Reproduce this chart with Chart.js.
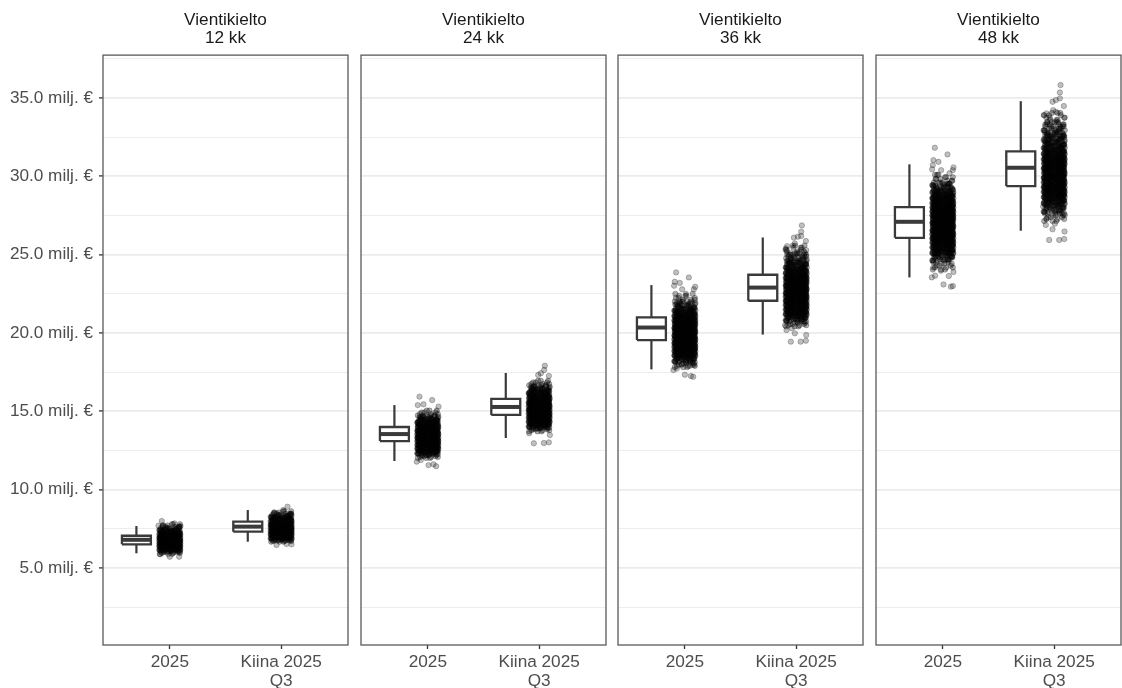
<!DOCTYPE html>
<html>
<head>
<meta charset="utf-8">
<title>Vientikielto</title>
<script src="https://cdn.jsdelivr.net/npm/chart.js@4/dist/chart.umd.min.js"></script>
<style>
    html, body { margin: 0; padding: 0; background: #fff; }
    canvas { position: absolute; top: 0; }
</style>
</head>
<body>
<canvas id="panel0"></canvas>
<canvas id="panel1"></canvas>
<canvas id="panel2"></canvas>
<canvas id="panel3"></canvas>
<script>
// Categories and panels
const categories = [['2025'], ['Kiina 2025', 'Q3']];
const panelTitles = [['Vientikielto', '12 kk'], ['Vientikielto', '24 kk'], ['Vientikielto', '36 kk'], ['Vientikielto', '48 kk']];
const yTicks = [2.5, 5, 7.5, 10, 12.5, 15, 17.5, 20, 22.5, 25, 27.5, 30, 32.5, 35, 37.5];
const yLabels = ['5.0 milj. €', '10.0 milj. €', '15.0 milj. €', '20.0 milj. €', '25.0 milj. €', '30.0 milj. €', '35.0 milj. €'];

// Box stats, one row per panel: [2025, Kiina 2025 Q3]
const whiskerLow = [[5.94, 6.68], [11.83, 13.3], [17.68, 19.9], [23.55, 26.53]];
const boxLow = [[6.51, 7.32], [13.1, 14.77], [19.55, 22.06], [26.08, 29.38]];
const medians = [[6.8, 7.64], [13.55, 15.28], [20.35, 22.9], [27.1, 30.55]];
const boxHigh = [[7.06, 7.96], [14.0, 15.8], [21.0, 23.72], [28.04, 31.6]];
const whiskerHigh = [[7.68, 8.7], [15.4, 17.45], [23.06, 26.1], [30.77, 34.8]];

// Sideways scatter of the dense part of every cloud
const jitter = [-0.09, 0.03, -0.03, 0.08, -0.06, 0.01, 0.06, -0.08, 0.04, -0.02, 0.09, -0.05, 0.02, -0.07, 0.07, -0.01, 0.05, -0.09, 0.00, 0.085, -0.04, 0.035, -0.075, 0.065, -0.015, 0.09, -0.055, 0.015, -0.085, 0.045, -0.025, 0.075, -0.065, 0.025, -0.035, 0.095, -0.045, 0.055, -0.08, 0.005, 0.07, -0.095, 0.04, -0.01, 0.085, -0.06, 0.03, -0.07, 0.06, -0.02, 0.09, -0.05, 0.01, -0.085, 0.05, -0.03, 0.08, -0.065, 0.02, -0.04];

// Dense part of the clouds
const dense12a = [5.9, 5.96, 6.02, 6.07, 6.12, 6.16, 6.2, 6.24, 6.28, 6.31, 6.35, 6.38, 6.41, 6.44, 6.48, 6.51, 6.54, 6.57, 6.6, 6.63, 6.66, 6.69, 6.72, 6.75, 6.78, 6.81, 6.84, 6.87, 6.9, 6.93, 6.97, 7.0, 7.03, 7.07, 7.1, 7.14, 7.18, 7.22, 7.26, 7.31, 7.36, 7.42, 7.48, 7.55, 7.63, 7.72, 7.8];
const dense12b = [6.68, 6.72, 6.76, 6.81, 6.86, 6.9, 6.94, 6.98, 7.02, 7.06, 7.1, 7.14, 7.17, 7.21, 7.24, 7.28, 7.31, 7.35, 7.38, 7.41, 7.45, 7.48, 7.51, 7.55, 7.58, 7.61, 7.65, 7.68, 7.71, 7.75, 7.78, 7.82, 7.85, 7.89, 7.93, 7.97, 8.01, 8.05, 8.1, 8.15, 8.2, 8.26, 8.32, 8.39, 8.46, 8.54, 8.62];
const dense24a = [12.02, 12.08, 12.14, 12.21, 12.27, 12.32, 12.37, 12.42, 12.47, 12.52, 12.57, 12.61, 12.66, 12.7, 12.74, 12.78, 12.82, 12.86, 12.9, 12.94, 12.98, 13.02, 13.06, 13.1, 13.13, 13.17, 13.21, 13.25, 13.28, 13.32, 13.36, 13.39, 13.43, 13.47, 13.5, 13.54, 13.57, 13.61, 13.65, 13.68, 13.72, 13.76, 13.8, 13.84, 13.88, 13.92, 13.96, 14.0, 14.04, 14.09, 14.13, 14.18, 14.23, 14.28, 14.33, 14.39, 14.45, 14.51, 14.58, 14.66, 14.74, 14.83, 14.93, 15.05];
const dense24b = [13.72, 13.79, 13.85, 13.92, 13.97, 14.03, 14.08, 14.14, 14.19, 14.24, 14.29, 14.33, 14.38, 14.42, 14.47, 14.51, 14.56, 14.6, 14.64, 14.68, 14.72, 14.76, 14.8, 14.84, 14.88, 14.92, 14.96, 15.0, 15.04, 15.08, 15.12, 15.16, 15.2, 15.24, 15.28, 15.32, 15.36, 15.4, 15.44, 15.48, 15.52, 15.56, 15.6, 15.64, 15.68, 15.73, 15.77, 15.82, 15.87, 15.92, 15.97, 16.02, 16.08, 16.14, 16.2, 16.27, 16.34, 16.41, 16.49, 16.57, 16.66, 16.75, 16.85, 16.95];
const dense36a = [17.82, 17.9, 17.98, 18.06, 18.13, 18.2, 18.27, 18.33, 18.39, 18.45, 18.51, 18.56, 18.61, 18.66, 18.71, 18.76, 18.8, 18.85, 18.9, 18.94, 18.98, 19.03, 19.07, 19.11, 19.15, 19.19, 19.23, 19.27, 19.31, 19.35, 19.39, 19.43, 19.47, 19.51, 19.55, 19.59, 19.63, 19.67, 19.71, 19.75, 19.79, 19.83, 19.87, 19.91, 19.95, 19.99, 20.03, 20.07, 20.11, 20.15, 20.19, 20.23, 20.27, 20.31, 20.35, 20.39, 20.43, 20.47, 20.51, 20.55, 20.59, 20.63, 20.67, 20.71, 20.76, 20.8, 20.84, 20.89, 20.93, 20.98, 21.03, 21.08, 21.13, 21.18, 21.24, 21.3, 21.36, 21.43, 21.5, 21.57, 21.65, 21.73, 21.82, 21.91, 22.01, 22.12, 22.24, 22.37, 22.5];
const dense36b = [20.42, 20.5, 20.58, 20.66, 20.74, 20.81, 20.88, 20.95, 21.01, 21.07, 21.13, 21.19, 21.25, 21.3, 21.35, 21.4, 21.45, 21.5, 21.55, 21.6, 21.64, 21.69, 21.73, 21.78, 21.82, 21.87, 21.91, 21.96, 22.0, 22.04, 22.08, 22.13, 22.17, 22.21, 22.25, 22.3, 22.34, 22.38, 22.42, 22.46, 22.5, 22.54, 22.58, 22.62, 22.66, 22.7, 22.74, 22.78, 22.82, 22.86, 22.9, 22.94, 22.98, 23.02, 23.06, 23.1, 23.14, 23.18, 23.22, 23.26, 23.3, 23.35, 23.39, 23.43, 23.48, 23.52, 23.57, 23.61, 23.66, 23.71, 23.76, 23.81, 23.87, 23.93, 23.99, 24.05, 24.12, 24.19, 24.26, 24.34, 24.42, 24.5, 24.59, 24.68, 24.78, 24.88, 25.0, 25.1, 25.2, 25.32, 25.45, 25.58];
const dense48a = [24.05, 24.18, 24.3, 24.42, 24.51, 24.63, 24.7, 24.82, 24.89, 24.98, 25.06, 25.11, 25.19, 25.24, 25.31, 25.36, 25.42, 25.47, 25.53, 25.57, 25.62, 25.68, 25.72, 25.77, 25.81, 25.86, 25.91, 25.95, 26.0, 26.04, 26.09, 26.12, 26.17, 26.21, 26.25, 26.3, 26.34, 26.38, 26.42, 26.46, 26.5, 26.55, 26.58, 26.63, 26.67, 26.71, 26.75, 26.79, 26.83, 26.87, 26.91, 26.95, 26.99, 27.03, 27.07, 27.11, 27.15, 27.19, 27.23, 27.27, 27.31, 27.35, 27.39, 27.43, 27.47, 27.51, 27.55, 27.59, 27.63, 27.67, 27.71, 27.75, 27.8, 27.84, 27.88, 27.93, 27.97, 28.02, 28.06, 28.11, 28.15, 28.2, 28.25, 28.29, 28.34, 28.39, 28.44, 28.49, 28.54, 28.6, 28.65, 28.71, 28.76, 28.83, 28.89, 28.96, 29.03, 29.1, 29.18, 29.26, 29.35, 29.44, 29.53, 29.61, 29.72, 29.83, 29.95, 30.1];
const dense48b = [27.15, 27.28, 27.4, 27.52, 27.63, 27.74, 27.84, 27.94, 28.03, 28.12, 28.2, 28.28, 28.36, 28.43, 28.5, 28.56, 28.62, 28.68, 28.74, 28.8, 28.85, 28.9, 28.95, 29.0, 29.05, 29.1, 29.15, 29.2, 29.25, 29.3, 29.35, 29.4, 29.45, 29.5, 29.55, 29.6, 29.65, 29.7, 29.75, 29.8, 29.85, 29.9, 29.95, 30.0, 30.05, 30.1, 30.15, 30.2, 30.25, 30.3, 30.35, 30.4, 30.45, 30.5, 30.55, 30.6, 30.65, 30.7, 30.75, 30.8, 30.85, 30.9, 30.95, 31.0, 31.05, 31.1, 31.15, 31.2, 31.26, 31.31, 31.37, 31.43, 31.49, 31.55, 31.61, 31.68, 31.75, 31.82, 31.89, 31.97, 32.05, 32.13, 32.22, 32.31, 32.4, 32.5, 32.6, 32.71, 32.82, 32.94, 33.06, 33.19, 33.32, 33.46, 33.6, 33.75, 33.9, 34.05];

// Single points around the clouds, read one by one
const outlier12aX = [-0.072, 0.042, 0.096, -0.102, -0.087, 0.0, 0.084];
const outlier12aY = [8.0, 7.85, 7.68, 7.7, 5.87, 5.72, 5.72];
const outlier12bX = [0.057, 0.018, 0.093, -0.042, 0.048, 0.093];
const outlier12bY = [8.91, 8.7, 8.38, 6.47, 6.53, 6.51];
const outlier24aX = [-0.075, 0.039, -0.039, -0.09, 0.096, -0.099, -0.063, 0.006, 0.075, 0.051];
const outlier24aY = [15.94, 15.72, 15.45, 15.4, 15.3, 11.79, 11.9, 11.57, 11.5, 11.62];
const outlier24bX = [0.051, 0.045, 0.015, 0.087, -0.009, -0.048, 0.042, 0.087, 0.096, -0.09];
const outlier24bY = [17.91, 17.64, 17.43, 17.26, 17.32, 12.96, 12.98, 13.02, 13.49, 13.6];
const outlier36aX = [-0.078, 0.036, -0.045, -0.09, -0.096, -0.024, 0.093, 0.081, -0.102, -0.072, 0.0, 0.075, 0.054, -0.027, 0.045, 0.084];
const outlier36aY = [23.87, 23.55, 23.2, 23.27, 23.02, 22.79, 22.95, 22.79, 17.64, 17.73, 17.34, 17.21, 17.26, 18.0, 17.9, 17.96];
const outlier36bX = [0.051, 0.045, 0.045, 0.015, -0.021, 0.087, -0.012, -0.081, -0.093, 0.09, -0.048, 0.04, 0.087, 0.09, -0.012, -0.087, -0.1, -0.04];
const outlier36bY = [26.87, 26.47, 26.19, 26.15, 26.09, 25.87, 25.72, 25.55, 25.4, 25.29, 19.45, 19.45, 19.51, 19.87, 19.98, 20.19, 20.5, 20.3];
const outlier48aX = [-0.072, 0.042, -0.084, -0.039, -0.09, -0.096, 0.096, -0.015, 0.09, 0.06, -0.099, -0.069, 0.006, 0.072, 0.09, -0.018, 0.054, 0.096, -0.084];
const outlier48aY = [31.83, 31.4, 31.04, 30.93, 30.72, 30.45, 30.57, 30.4, 30.4, 30.2, 23.55, 23.66, 23.1, 22.96, 23.0, 23.98, 23.64, 23.9, 24.19];
const outlier48bX = [0.057, 0.051, 0.051, 0.015, -0.015, 0.087, -0.009, -0.069, 0.09, -0.093, 0.015, -0.045, 0.045, 0.09, 0.093, -0.015, -0.075, -0.099, -0.069, 0.006, 0.096];
const outlier48bY = [35.83, 35.36, 34.98, 34.87, 34.76, 34.49, 34.23, 34.02, 33.74, 33.91, 34.12, 25.94, 25.94, 26.0, 26.48, 26.62, 26.9, 28.07, 27.3, 26.98, 27.53];

const denseClouds = [[dense12a, dense12b], [dense24a, dense24b], [dense36a, dense36b], [dense48a, dense48b]];
const outliersX = [[outlier12aX, outlier12bX], [outlier24aX, outlier24bX], [outlier36aX, outlier36bX], [outlier48aX, outlier48bX]];
const outliersY = [[outlier12aY, outlier12bY], [outlier24aY, outlier24bY], [outlier36aY, outlier36bY], [outlier48aY, outlier48bY]];

// Layout and style
const panelLeft = [103, 361, 618, 876];
const panelWidth = 245;
const boxOffset = -0.3;
const boxHalf = 0.13;
const inkColor = '#3a3a3a';
const labelColor = '#4d4d4d';
const gridColor = '#ebebeb';
const fontFamily = '"Liberation Sans", Arial, sans-serif';
// every dense y is drawn at these places of the jitter list, fewer near the cloud ends
const jitterStarts = [0, 24, 12, 48, 36, 6, 30, 18];

// ggplot style frame round the panel
const panelFrame = {
    id: 'panelFrame',
    afterDraw: function (chart) {
        const a = chart.chartArea;
        const ctx = chart.ctx;
        ctx.save();
        ctx.strokeStyle = '#5a5a5a';
        ctx.lineWidth = 1.3;
        ctx.strokeRect(a.left, a.top, a.right - a.left, a.bottom - a.top);
        ctx.restore();
    }
};

function lineSet(points, width, extra) {
    return Object.assign({
        data: points,
        showLine: true,
        pointRadius: 0,
        borderColor: inkColor,
        borderWidth: width,
        borderCapStyle: 'butt',
        borderJoinStyle: 'miter',
        tension: 0
    }, extra || {});
}

function densePoints(values, cx) {
    const points = [];
    values.forEach(function (v, k) {
        const edge = Math.min(k, values.length - 1 - k) / values.length;
        const copies = edge < 0.04 ? 3 : edge < 0.09 ? 6 : jitterStarts.length;
        jitterStarts.slice(0, copies).forEach(function (s) {
            points.push({ x: cx + jitter[(k + s) % jitter.length], y: v });
        });
    });
    return points;
}

function buildDatasets(p) {
    const medianSets = [], boxSets = [], whiskerSets = [], denseSets = [], outlierSets = [];
    categories.forEach(function (c, i) {
        const cx = i + 1;
        const bx = cx + boxOffset;
        medianSets.push(lineSet([{ x: bx - boxHalf, y: medians[p][i] }, { x: bx + boxHalf, y: medians[p][i] }], 4));
        boxSets.push(lineSet([
            { x: bx - boxHalf, y: boxLow[p][i] }, { x: bx + boxHalf, y: boxLow[p][i] },
            { x: bx + boxHalf, y: boxHigh[p][i] }, { x: bx - boxHalf, y: boxHigh[p][i] },
            { x: bx - boxHalf, y: boxLow[p][i] }
        ], 2.3, { fill: 'shape', backgroundColor: '#fff' }));
        whiskerSets.push(lineSet([{ x: bx, y: whiskerLow[p][i] }, { x: bx, y: whiskerHigh[p][i] }], 2.2));
        denseSets.push({
            data: densePoints(denseClouds[p][i], cx),
            pointRadius: 2.7,
            pointBorderWidth: 0.7,
            pointBackgroundColor: 'rgba(0,0,0,0.32)',
            pointBorderColor: 'rgba(0,0,0,0.35)'
        });
        outlierSets.push({
            data: outliersY[p][i].map(function (v, k) { return { x: cx + outliersX[p][i][k], y: v }; }),
            pointRadius: 2.7,
            pointBorderWidth: 0.8,
            pointBackgroundColor: 'rgba(0,0,0,0.25)',
            pointBorderColor: 'rgba(0,0,0,0.3)'
        });
    });
    // first dataset ends up on top
    return medianSets.concat(boxSets, whiskerSets, denseSets, outlierSets);
}

panelTitles.forEach(function (title, p) {
    const canvas = document.getElementById('panel' + p);
    const first = p === 0;
    const leftPad = first ? 0 : 2;
    const canvasLeft = first ? 0 : panelLeft[p] - leftPad;
    const axisWidth = first ? panelLeft[0] : 0;
    canvas.style.left = canvasLeft + 'px';
    canvas.width = axisWidth + leftPad + panelWidth + 2;
    canvas.height = 688;

    new Chart(canvas.getContext('2d'), {
        type: 'scatter',
        data: { datasets: buildDatasets(p) },
        options: {
            responsive: false,
            animation: false,
            layout: { autoPadding: false, padding: { left: leftPad, right: 2 } },
            plugins: {
                legend: { display: false },
                tooltip: { enabled: false },
                title: {
                    display: true,
                    text: title,
                    fullSize: false,
                    color: '#1a1a1a',
                    font: { family: fontFamily, size: 17.2, weight: 'normal', lineHeight: 1.05 },
                    padding: { top: 11, bottom: 8 }
                }
            },
            scales: {
                x: {
                    type: 'linear',
                    min: 0.4,
                    max: 2.6,
                    afterBuildTicks: function (axis) {
                        axis.ticks = categories.map(function (c, i) { return { value: i + 1 }; });
                    },
                    afterFit: function (axis) { axis.height = 43; },
                    border: { display: false },
                    grid: { drawOnChartArea: false, tickLength: 4, tickColor: '#333', tickWidth: 1.3 },
                    ticks: {
                        autoSkip: false,
                        maxRotation: 0,
                        padding: 4,
                        color: labelColor,
                        font: { family: fontFamily, size: 17.2, lineHeight: 1.08 },
                        callback: function (value) { return categories[value - 1]; }
                    }
                },
                y: {
                    min: 0.085,
                    max: 37.74,
                    afterBuildTicks: function (axis) {
                        axis.ticks = yTicks.map(function (v) { return { value: v }; });
                    },
                    afterFit: function (axis) { axis.width = axisWidth; },
                    border: { display: false },
                    grid: {
                        color: gridColor,
                        lineWidth: function (ctx) { return ctx.tick && ctx.tick.value % 5 === 0 ? 1.8 : 0.9; },
                        tickLength: first ? 4 : 0,
                        tickColor: function (ctx) { return ctx.tick && ctx.tick.value % 5 === 0 ? '#333' : 'rgba(0,0,0,0)'; },
                        tickWidth: 1.3
                    },
                    ticks: {
                        display: first,
                        autoSkip: false,
                        padding: 6,
                        color: labelColor,
                        font: { family: fontFamily, size: 17.2 },
                        callback: function (value) {
                            return value % 5 === 0 ? yLabels[value / 5 - 1] : '';
                        }
                    }
                }
            }
        },
        plugins: [panelFrame]
    });
});
</script>
</body>
</html>
